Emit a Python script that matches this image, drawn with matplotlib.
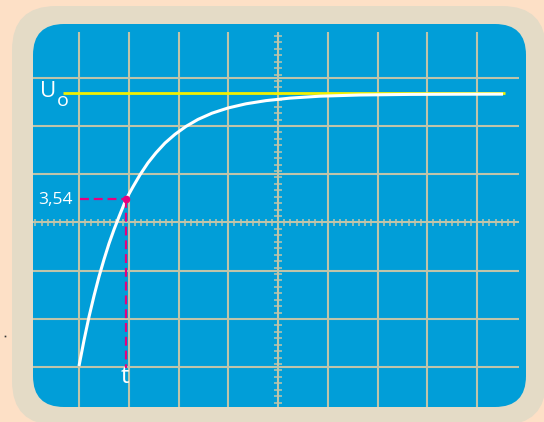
import matplotlib
matplotlib.use('Agg')
import matplotlib.pyplot as plt
from matplotlib.patches import FancyBboxPatch
import numpy as np

# ---- data (scope divisions) ----
t_div = [0.0, 0.101, 0.201, 0.302, 0.402, 0.503, 0.603, 0.704, 0.804, 0.945,
         1.085, 1.226, 1.387, 1.548, 1.729, 1.930, 2.151, 2.392, 2.673, 2.995,
         3.357, 3.759, 4.241, 4.844, 5.648, 6.653, 7.658, 8.523]
u_div = [0.02, 0.556, 1.042, 1.478, 1.877, 2.234, 2.562, 2.854, 3.120, 3.48,
         3.741, 3.990, 4.239, 4.447, 4.650, 4.831, 4.995, 5.140, 5.269, 5.377,
         5.464, 5.530, 5.582, 5.622, 5.647, 5.659, 5.663, 5.665]
u0_level = 5.695
u0_span = [-0.32, 8.57]
mark_t = 0.945
mark_u = 3.49
mark_label = "3,54"
grid_x = [0, 1, 2, 3, 4, 5, 6, 7, 8]
grid_y = [0, 1, 2, 3, 4, 5, 6]
axis_x = 4
axis_y = 3

# ---- layout (pixel mapping) ----
W, H = 544, 422
X0, SX = 79, 49.75      # pixel of x=0, pixels per division
Y0, SY = 367, 48.17     # pixel of y=0, pixels per division

def dx(px):
    return (px - X0) / SX

def dy(py):
    return (Y0 - py) / SY

fig = plt.figure(figsize=(W / 100, H / 100), dpi=100)
fig.patch.set_facecolor('#fde0c6')

bg = fig.add_axes([0, 0, 1, 1])
bg.set_xlim(0, W)
bg.set_ylim(H, 0)
bg.axis('off')
bg.add_patch(FancyBboxPatch((12, 6), 534, 419,
                            boxstyle='round,pad=0,rounding_size=44',
                            fc='#e4dbc6', ec='none'))
bg.add_patch(FancyBboxPatch((33, 24), 493, 383,
                            boxstyle='round,pad=0,rounding_size=31',
                            fc='#019ed8', ec='none'))
bg.plot([4.5], [335.5], marker='s', ms=1.2, color='#333333', mew=0)

ax = fig.add_axes([0, 0, 1, 1])
ax.set_xlim(dx(0), dx(W))
ax.set_ylim(dy(H), dy(0))
ax.axis('off')
ax.patch.set_alpha(0)

gc = '#bfc4a9'
right = dx(519)
top, bottom = dy(32), dy(407)
ax.vlines(grid_x, bottom, top, colors=gc, lw=1.5, zorder=1)
ax.hlines(grid_y, dx(33), right, colors=gc, lw=1.5, zorder=1)

# ticks on central axes
xt = np.arange(-7, 71) / 8.0
ax.vlines(xt, axis_y - 3.5 / SY, axis_y + 3.5 / SY, colors=gc, lw=1.1, zorder=1)
yt = axis_y + np.arange(-28, 30) * (6.43 / SY)
ax.hlines(yt, axis_x - 4.2 / SX, axis_x + 4.2 / SX, colors=gc, lw=1.1, zorder=1)

# U0 line
ax.plot(u0_span, [u0_level, u0_level], color='#f2f000', lw=2.0,
        solid_capstyle='butt', zorder=3)

# curve
ax.plot(t_div, u_div, color='white', lw=2.2, solid_capstyle='butt',
        solid_joinstyle='round', zorder=4)

# magenta markers
mc = '#e6007e'
ax.plot([dx(80), mark_t], [mark_u, mark_u], color=mc, lw=1.6,
        dashes=(4, 2.2), zorder=5)
ax.plot([mark_t, mark_t], [mark_u, dy(368)], color=mc, lw=1.6,
        dashes=(4, 2.2), zorder=5)
ax.plot([mark_t], [mark_u], 'o', color=mc, ms=4.5, zorder=6)

fam = ['Open Sans', 'DejaVu Sans']
ax.text(dx(73), mark_u - 0.03, mark_label, color='white', fontsize=12.5,
        ha='right', va='center', family=fam)
ax.text(dx(40), dy(91.5), 'U', color='white', fontsize=16, ha='left',
        va='center', family=fam)
ax.text(dx(56.5), dy(101), 'o', color='white', fontsize=14, ha='left',
        va='center', family=fam)
ax.text(mark_t - 0.02, dy(377), 't', color='white', fontsize=17,
        ha='center', va='center', family=fam)

fig.savefig('out.png', dpi=100)
